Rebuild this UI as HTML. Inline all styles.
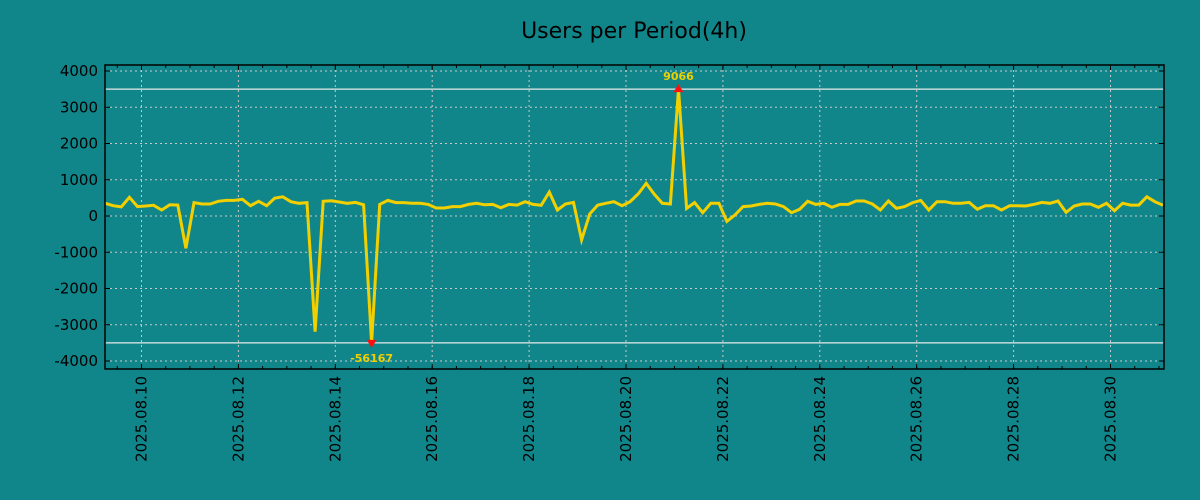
<!DOCTYPE html>
<html><head><meta charset="utf-8"><style>
html,body{margin:0;padding:0;background:#11868a;}
svg{display:block;font-family:"DejaVu Sans","Liberation Sans",sans-serif;}
</style></head><body>
<svg id="chart" width="1200" height="500">
<rect x="0" y="0" width="1200" height="500" fill="#11868a"/>
<text x="634" y="38" text-anchor="middle" font-size="22" fill="#000">Users per Period(4h)</text>
<g id="grid"></g>
<g id="axes"></g>
<g id="series"></g>
<rect x="105" y="65" width="1059" height="304" fill="none" stroke="#000" stroke-width="1.5"/>
</svg>
<script>
const startHour = -18; // hours relative to 2025-08-10 00:00
const stepHours = 4;
const values = [350,285,250,515,260,275,295,165,310,300,-890,370,330,330,405,430,430,460,285,405,285,490,530,395,350,370,-3190,405,420,385,350,375,310,-56167,320,430,370,370,350,350,320,220,220,260,260,320,350,310,320,230,320,300,395,320,295,660,165,330,375,-660,55,300,350,395,285,395,607,900,600,350,330,9066,210,370,90,350,350,-150,30,260,275,320,350,330,260,90,185,405,320,350,240,320,320,415,415,330,165,415,210,260,370,430,165,395,395,350,350,375,185,285,285,165,285,285,275,320,375,350,415,100,275,330,330,240,350,145,350,300,300,530,395,295];
const yTicks = [-4000,-3000,-2000,-1000,0,1000,2000,3000,4000];
const xTickLabels = ["2025.08.10","2025.08.12","2025.08.14","2025.08.16","2025.08.18","2025.08.20","2025.08.22","2025.08.24","2025.08.26","2025.08.28","2025.08.30"];
const xTickDays = [0,2,4,6,8,10,12,14,16,18,20];
const clipLimit = 3500;

const NS="http://www.w3.org/2000/svg";
const L=105,R=1164,T=65,B=369;
const xs=h=>141.5+h*48.45/24;
const ys=v=>216-v*0.03625;
function mk(tag,attrs,parent){const e=document.createElementNS(NS,tag);for(const k in attrs)e.setAttribute(k,attrs[k]);parent.appendChild(e);return e;}
const grid=document.getElementById('grid'),axes=document.getElementById('axes'),series=document.getElementById('series');

yTicks.forEach(v=>{
  const y=ys(v);
  const g=mk('line',{x1:L,x2:R,y1:y,y2:y,stroke:'#c8c8c8','stroke-dasharray':'2,3','stroke-width':1},grid);
  
  
  mk('line',{x1:L,x2:L+5,y1:y,y2:y,stroke:'#000'},axes);
  mk('line',{x1:R-5,x2:R,y1:y,y2:y,stroke:'#000'},axes);
  const t=mk('text',{x:L-7,y:y+5,'text-anchor':'end','font-size':15,fill:'#000'},axes);
  t.textContent=String(v);
  
  
});
xTickDays.forEach((d,i)=>{
  const x=xs(d*24);
  const g=mk('line',{x1:x,x2:x,y1:T,y2:B,stroke:'#c8c8c8','stroke-dasharray':'2,3','stroke-width':1},grid);
  
  
  mk('line',{x1:x,x2:x,y1:B-5,y2:B,stroke:'#000'},axes);
  mk('line',{x1:x,x2:x,y1:T,y2:T+5,stroke:'#000'},axes);
  const t=mk('text',{x:0,y:0,'text-anchor':'end','font-size':15,fill:'#000',transform:`translate(${x+5},${B+7}) rotate(-90)`},axes);
  t.textContent=xTickLabels[i];
  
  
});
for(let d=-0.5;d<=21;d+=0.5){const x=xs(d*24);if(x<L||x>R)continue;mk('line',{x1:x,x2:x,y1:B-3,y2:B,stroke:'#000'},axes);mk('line',{x1:x,x2:x,y1:T,y2:T+3,stroke:'#000'},axes);}
[-3500,3500].forEach(v=>{
  const y=ys(v);
  const l=mk('line',{x1:L,x2:R,y1:y,y2:y,stroke:'#e8e8e8','stroke-width':1.2},grid);
  
  
});
const pts=values.map((v,k)=>[xs(startHour+k*stepHours),ys(Math.max(-clipLimit,Math.min(clipLimit,v)))]);
const path=mk('polyline',{points:pts.map(p=>p[0].toFixed(1)+','+p[1].toFixed(1)).join(' '),fill:'none',stroke:'#f2d000','stroke-width':3,'stroke-linejoin':'miter'},series);


let iMax=0,iMin=0;values.forEach((v,i)=>{if(v>values[iMax])iMax=i;if(v<values[iMin])iMin=i;});
[[iMax,1],[iMin,-1]].forEach(([i,dir])=>{
  const [x,y]=pts[i];
  const m=mk('polygon',{points:dir>0?`${x-5},${y+3} ${x+5},${y+3} ${x},${y-5}`:`${x-5},${y-3} ${x+5},${y-3} ${x},${y+5}`,fill:'#ff1010'},series);
  
  
  const t=mk('text',{x:x,y:dir>0?y-9:y+19,'text-anchor':'middle','font-size':11,'font-weight':'bold',fill:'#f2d000'},series);
  t.textContent=String(values[i]);
  
  
});
</script>
</body></html>
